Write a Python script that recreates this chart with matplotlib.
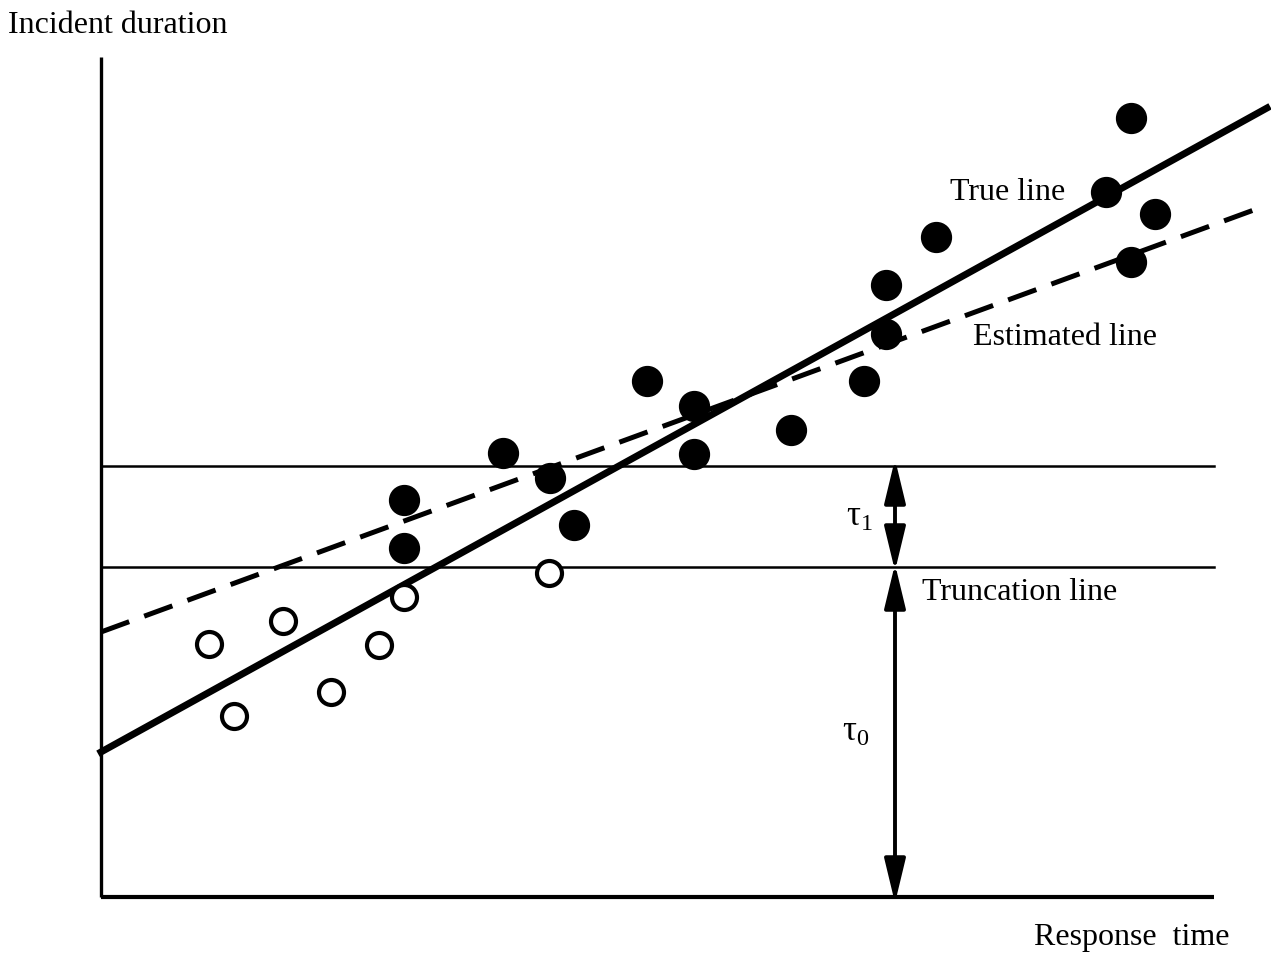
import numpy as np
import matplotlib.pyplot as plt

plt.rcParams['font.family'] = ['Liberation Serif', 'DejaVu Serif']
plt.rcParams['mathtext.fontset'] = 'custom'
plt.rcParams['mathtext.rm'] = 'Liberation Serif'
plt.rcParams['mathtext.it'] = 'Liberation Serif:italic'

# points above the truncation line (observed)
obs_x = [1030, 1005, 1054, 1030, 835, 785, 785, 763, 690, 593, 593, 546, 402, 449, 473, 303, 303]
obs_y = [779, 705, 683, 635, 660, 612, 563, 516, 467, 491, 443, 516, 444, 419, 372, 397, 349]

# truncated points (not observed)
cens_x = [448, 303, 182, 108, 278, 230, 133]
cens_y = [324, 300, 276, 253, 252, 205, 181]

true_x = [0, 1166]
true_y = [145, 789]
est_x = [0, 1161]
est_y = [265, 690]

trunc_level = 330
upper_level = 431
x_end = 1113
y_top = 840
arrow_x = 794

fig = plt.figure(figsize=(12.71, 9.58), dpi=100)
ax = fig.add_axes([0, 0, 1, 1])
ax.set_xlim(-101, 1170)
ax.set_ylim(-61, 897)
ax.set_axis_off()

# axes
ax.plot([0, 0], [0, y_top], color='k', lw=2.4, solid_capstyle='butt')
ax.plot([0, x_end], [0, 0], color='k', lw=3.0, solid_capstyle='butt')
ax.plot([0, x_end], [trunc_level, trunc_level], color='k', lw=1.8)
ax.plot([0, x_end], [upper_level, upper_level], color='k', lw=1.8)

ax.plot(true_x, true_y, color='k', lw=5)
ax.plot(est_x, est_y, color='k', lw=3.6, dashes=(6, 3.2))

ax.plot(obs_x, obs_y, 'o', color='k', ms=21.5, zorder=5)
ax.plot(cens_x, cens_y, 'o', mfc='white', mec='k', mew=3, ms=18, zorder=5)

arrow = dict(arrowstyle='<|-|>,head_length=2.7,head_width=0.65', lw=2.8, color='k',
             shrinkA=0, shrinkB=0)
ax.annotate('', xy=(arrow_x, upper_level + 7), xytext=(arrow_x, trunc_level - 4), arrowprops=arrow)
ax.annotate('', xy=(arrow_x, trunc_level + 3), xytext=(arrow_x, -6), arrowprops=arrow)

fs = 23
ax.text(-93, 872, 'Incident duration', fontsize=fs, ha='left', va='center')
ax.text(907, 705, 'True line', fontsize=fs, ha='center', va='center')
ax.text(964, 560, 'Estimated line', fontsize=fs, ha='center', va='center')
ax.text(919, 304, 'Truncation line', fontsize=fs, ha='center', va='center')
ax.text(1031, -40, 'Response  time', fontsize=fs, ha='center', va='center')
ax.text(758, 380, r'$\mathrm{τ_1}$', fontsize=fs + 2, ha='center', va='center')
ax.text(755, 165, r'$\mathrm{τ_0}$', fontsize=fs + 2, ha='center', va='center')

fig.savefig('out.png', dpi=100)
